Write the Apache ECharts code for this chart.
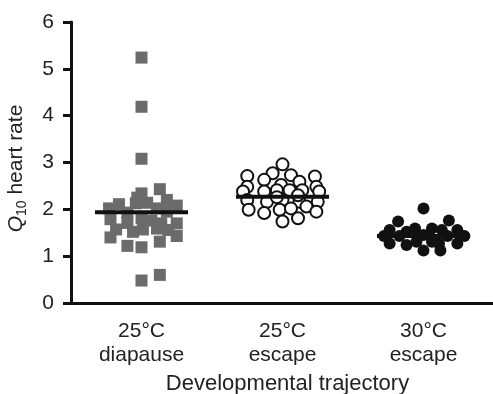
<!DOCTYPE html>
<html>
<head>
<meta charset="utf-8">
<script src="https://cdn.jsdelivr.net/npm/echarts@6/dist/echarts.min.js"></script>
<style>
  html, body { margin: 0; padding: 0; background: #fff; }
  #main { width: 493px; height: 394px; }
</style>
</head>
<body>
<div id="main"></div>
<script>
// groups on the x axis
var categories = ["25°C\ndiapause", "25°C\nescape", "30°C\nescape"];

// Q10 values per group, with the horizontal scatter offset (in category widths)
var diapause25Q10 = [5.24, 4.19, 3.08, 2.34, 2.43, 2.25, 2.20, 2.11, 2.13, 2.14, 2.08, 2.02, 2.02,
  1.79, 1.71, 1.81, 1.76, 1.70, 1.70, 1.57, 1.52, 1.57, 1.59, 1.56, 1.40, 1.43, 1.22, 1.19, 1.31,
  0.48, 0.60, 1.93, 1.95];
var diapause25Jitter = [0, 0, 0, 0, 0.13, -0.03, 0.18, -0.16, -0.04, 0.04, 0.25, -0.23, 0.11,
  -0.22, -0.10, 0, 0.07, 0.14, 0.25, -0.18, -0.06, 0.01, 0.11, 0.19, -0.22, 0.25, -0.10, 0, 0.13,
  0, 0.13, -0.10, 0.18];

var escape25Q10 = [2.96, 2.71, 2.77, 2.73, 2.70, 2.63, 2.59, 2.48, 2.52, 2.48, 2.38, 2.38, 2.41,
  2.41, 2.41, 2.38, 2.20, 2.16, 2.20, 2.16, 2.16, 1.99, 1.92, 1.99, 2.02, 2.06, 1.95, 1.81, 1.74,
  2.26, 2.30];
var escape25Jitter = [0, -0.25, -0.07, 0.06, 0.23, -0.13, 0.12, -0.25, -0.01, 0.24, -0.28, -0.13, -0.04,
  0.05, 0.14, 0.26, -0.25, -0.11, 0, 0.12, 0.25, -0.24, -0.13, -0.02, 0.06, 0.17, 0.24, 0.11, 0,
  -0.04, 0.11];

var escape30Q10 = [2.02, 1.74, 1.76, 1.56, 1.52, 1.59, 1.59, 1.56, 1.56, 1.43, 1.43, 1.45, 1.43,
  1.43, 1.27, 1.24, 1.31, 1.31, 1.27, 1.27, 1.12, 1.12];
var escape30Jitter = [0, -0.18, 0.18, -0.24, -0.12, -0.06, 0.06, 0.13, 0.24, -0.28, -0.17, 0, 0.17,
  0.29, -0.24, -0.12, -0.05, 0.06, 0.11, 0.24, 0, 0.12];

// group means (horizontal bars)
var means = [1.94, 2.27, 1.43];

var yTicks = [0, 1, 2, 3, 4, 5, 6];

var fontName = "Liberation Sans, Arial, Helvetica, sans-serif";

function toPoints(idx, vals, jit) {
  return vals.map(function (v, i) {
    return [idx + 0.5 + jit[i], v];
  });
}

var chart = echarts.init(document.getElementById("main"));

var series = [
  {
    type: "scatter",
    xAxisIndex: 1,
    symbol: "rect",
    symbolSize: 12,
    itemStyle: { color: "#6b6b6b", opacity: 1 },
    data: toPoints(0, diapause25Q10, diapause25Jitter)
  },
  {
    type: "scatter",
    xAxisIndex: 1,
    symbol: "circle",
    symbolSize: 12,
    itemStyle: { color: "#fff", borderColor: "#111", borderWidth: 2, opacity: 1 },
    data: toPoints(1, escape25Q10, escape25Jitter)
  },
  {
    type: "scatter",
    xAxisIndex: 1,
    symbol: "circle",
    symbolSize: 12,
    itemStyle: { color: "#111", opacity: 1 },
    data: toPoints(2, escape30Q10, escape30Jitter)
  }
];

// mean bars
means.forEach(function (m, i) {
  series.push({
    type: "line",
    xAxisIndex: 1,
    z: 5,
    symbol: "none",
    silent: true,
    lineStyle: { color: "#111", width: 4 },
    data: [[i + 0.5 - 0.33, m], [i + 0.5 + 0.33, m]]
  });
});

chart.setOption({
  animation: false,
  grid: { left: 71, right: -1, top: 22, bottom: 91, containLabel: false, outerBoundsMode: "none" },
  xAxis: [
    {
      type: "category",
      data: categories,
      boundaryGap: true,
      name: "Developmental trajectory",
      nameLocation: "middle",
      nameGap: 70,
      nameTextStyle: { fontSize: 22, color: "#222", fontFamily: fontName, padding: [0, 0, 0, 10] },
      axisLine: { lineStyle: { color: "#111", width: 3 } },
      axisTick: { alignWithLabel: true, length: 9, lineStyle: { color: "#111", width: 3 } },
      axisLabel: { fontSize: 21, lineHeight: 24, color: "#222", fontFamily: fontName, margin: 16 },
      splitLine: { show: false }
    },
    {
      type: "value",
      min: 0,
      max: 3,
      show: false
    }
  ],
  yAxis: {
    type: "value",
    min: 0,
    max: 6,
    interval: 1,
    name: "{q|Q}{s|10}{t| heart rate}",
    nameLocation: "middle",
    nameGap: 42,
    nameTextStyle: {
      fontFamily: fontName,
      color: "#222",
      padding: [0, 12, 0, 0],
      rich: {
        q: { fontSize: 21, fontStyle: "italic", fontFamily: fontName, color: "#222", lineHeight: 26, verticalAlign: "middle" },
        s: { fontSize: 14, fontFamily: fontName, color: "#222", lineHeight: 26, verticalAlign: "bottom" },
        t: { fontSize: 21, fontFamily: fontName, color: "#222", lineHeight: 26, verticalAlign: "middle" }
      }
    },
    axisLine: { show: true, lineStyle: { color: "#111", width: 3 } },
    axisTick: { show: true, length: 8, lineStyle: { color: "#111", width: 3 } },
    axisLabel: {
      fontSize: 21, color: "#222", fontFamily: fontName, margin: 17,
      formatter: function (v) { return yTicks.indexOf(v) >= 0 ? String(v) : ""; }
    },
    splitLine: { show: false }
  },
  series: series
});
</script>
</body>
</html>
